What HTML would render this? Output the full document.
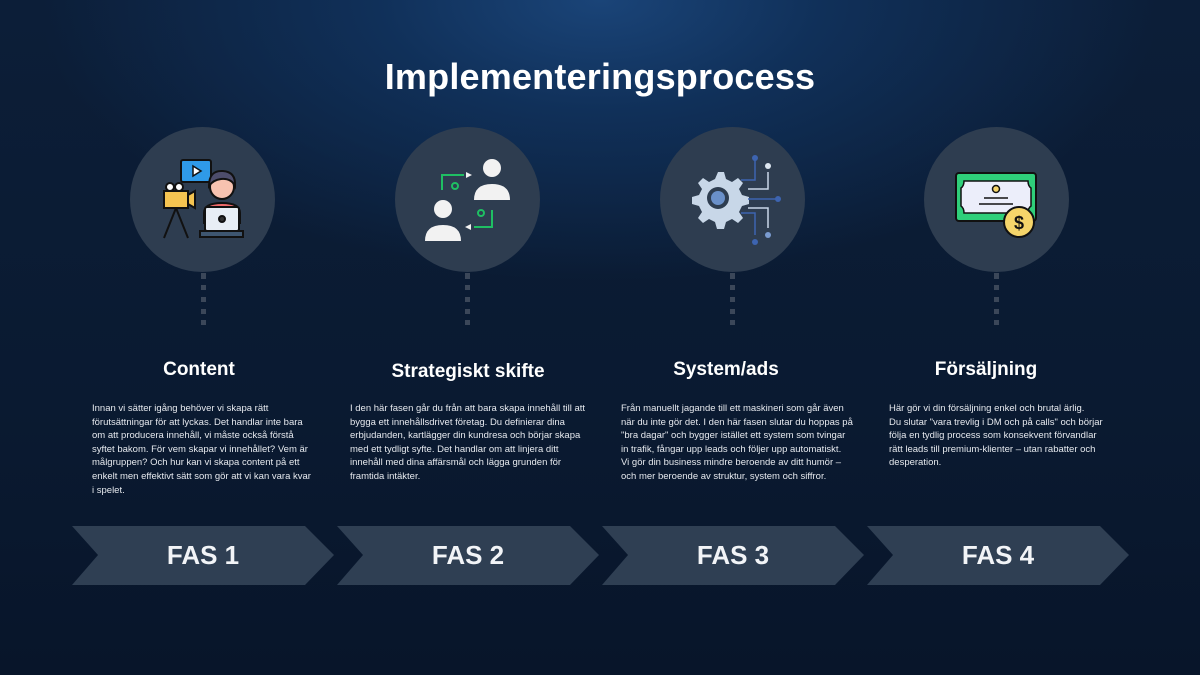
<!DOCTYPE html>
<html><head><meta charset="utf-8"><style>
*{margin:0;padding:0;box-sizing:border-box}
body{width:1200px;height:675px;overflow:hidden;font-family:"Liberation Sans",Arial,sans-serif;color:#fff;position:relative;
background:radial-gradient(ellipse 560px 280px at 600px 0px,#1a4478 0%,#103059 40%,rgba(11,28,52,0) 100%),linear-gradient(180deg,#0c1e38 0%,#0a1a31 60%,#08152a 100%);}
.title{position:absolute;left:0;width:1200px;top:56px;text-align:center;font-size:36px;font-weight:bold;letter-spacing:0.2px}
.circ{position:absolute;width:145px;height:145px;border-radius:50%;background:#2e3d50;top:127px}
.h{position:absolute;width:260px;text-align:center;font-size:19px;font-weight:bold;top:359px}
.t{position:absolute;font-size:9.5px;line-height:13.6px;color:#e6e9ee;top:402px;white-space:nowrap}
.lbl{position:absolute;top:540px;width:200px;text-align:center;font-size:26px;font-weight:bold;color:#f2f4f7}
</style></head><body>
<div class="title">Implementeringsprocess</div>

<div class="circ" style="left:130px"></div>
<div class="circ" style="left:395px"></div>
<div class="circ" style="left:660px"></div>
<div class="circ" style="left:924px"></div>

<svg width="1200" height="675" style="position:absolute;left:0;top:0">
<g fill="#3b4759">
<rect x="201" y="273" width="5" height="6"/><rect x="201" y="285" width="5" height="5"/><rect x="201" y="297" width="5" height="5"/><rect x="201" y="309" width="5" height="5"/><rect x="201" y="320" width="5" height="5"/>
<rect x="465" y="273" width="5" height="6"/><rect x="465" y="285" width="5" height="5"/><rect x="465" y="297" width="5" height="5"/><rect x="465" y="309" width="5" height="5"/><rect x="465" y="320" width="5" height="5"/>
<rect x="730" y="273" width="5" height="6"/><rect x="730" y="285" width="5" height="5"/><rect x="730" y="297" width="5" height="5"/><rect x="730" y="309" width="5" height="5"/><rect x="730" y="320" width="5" height="5"/>
<rect x="994" y="273" width="5" height="6"/><rect x="994" y="285" width="5" height="5"/><rect x="994" y="297" width="5" height="5"/><rect x="994" y="309" width="5" height="5"/><rect x="994" y="320" width="5" height="5"/>
</g>
<g fill="#2f3f53">
<polygon points="72,526 305,526 334,555 305,585 72,585 98,555"/>
<polygon points="337,526 570,526 599,555 570,585 337,585 363,555"/>
<polygon points="602,526 835,526 864,555 835,585 602,585 628,555"/>
<polygon points="867,526 1100,526 1129,555 1100,585 867,585 893,555"/>
</g>
<g stroke="#111" stroke-width="2">
<rect x="181" y="160" width="30" height="22" rx="2" fill="#2f9ae8"/>
<polygon points="193,166 201,171 193,176" fill="#fff" stroke-width="1.5"/>
<rect x="164" y="191" width="24" height="17" fill="#f5c451"/>
<polygon points="188,195 195,191 195,208 188,204" fill="#f5c451"/>
<circle cx="170" cy="187" r="4" fill="#fff"/><circle cx="179" cy="187" r="4" fill="#fff"/>
<line x1="176" y1="208" x2="164" y2="238"/><line x1="176" y1="208" x2="188" y2="238"/>
<path d="M204,213 q0,-10 18,-10 q18,0 18,10 v10 h-36z" fill="#f06a6a"/>
<circle cx="222" cy="187" r="12" fill="#f7c2b0"/>
<path d="M209,186 q0,-16 14,-15 q13,1 12,15 q-4,-8 -14,-7 q-8,1 -12,7z" fill="#4d4d6b"/>
<rect x="205" y="207" width="34" height="24" rx="2" fill="#e8eef5"/>
<circle cx="222" cy="219" r="3" fill="#333"/>
<rect x="200" y="231" width="43" height="6" fill="#3e5670"/>
</g>
<g fill="#f2f2f2">
<circle cx="492" cy="168" r="9"/><path d="M474,200 q0,-16 18,-16 q18,0 18,16z"/>
<circle cx="443" cy="209" r="9"/><path d="M425,241 q0,-16 18,-16 q18,0 18,16z"/>
<polygon points="466,172 472,175 466,178"/><polygon points="471,224 465,227 471,230"/>
</g>
<g stroke="#1fbf63" stroke-width="2" fill="none">
<path d="M442,190 v-15 h22"/><path d="M492,210 v17 h-18"/>
<circle cx="455" cy="186" r="3"/><circle cx="481" cy="213" r="3"/>
</g>
<g>
<path fill="#c8d7e8" d="M718,172 l6,0 l2,7 l6,3 l6,-4 l5,5 l-4,6 l3,6 l7,2 l0,7 l-7,2 l-3,6 l4,6 l-5,5 l-6,-4 l-6,3 l-2,7 l-7,0 l-2,-7 l-6,-3 l-6,4 l-5,-5 l4,-6 l-3,-6 l-7,-2 l0,-7 l7,-2 l3,-6 l-4,-6 l5,-5 l6,4 l6,-3z"/>
<circle cx="718" cy="198" r="11" fill="#2e3d50"/><circle cx="718" cy="198" r="7" fill="#6a90c9"/>
<g stroke="#3d64b0" stroke-width="1.5" fill="none">
<path d="M741,180 h14 v-22"/><path d="M748,199 h28"/><path d="M741,213 h14 v22"/>
</g>
<g stroke="#c8d7e8" stroke-width="1.5" fill="none"><path d="M748,189 h20 v-17"/><path d="M748,208 h20 v20"/></g>
<circle cx="755" cy="158" r="3" fill="#3d64b0"/><circle cx="768" cy="166" r="3" fill="#dde6f0"/>
<circle cx="778" cy="199" r="3" fill="#3d64b0"/><circle cx="768" cy="235" r="3" fill="#7a9bd0"/><circle cx="755" cy="242" r="3" fill="#3d64b0"/>
</g>
<g stroke="#111" stroke-width="2">
<rect x="956" y="173" width="80" height="48" rx="3" fill="#2fcf7a"/>
<path d="M964,181 h64 q0,5 3,7 v18 q-3,2 -3,7 h-64 q0,-5 -3,-7 v-18 q3,-2 3,-7z" fill="#eceefa" stroke-width="1.5"/>
<circle cx="996" cy="189" r="3.5" fill="#f5d56a" stroke-width="1.5"/>
<line x1="984" y1="198" x2="1008" y2="198" stroke-width="1.5"/><line x1="979" y1="204" x2="1013" y2="204" stroke-width="1.5"/>
<circle cx="1019" cy="222" r="15" fill="#f5d56a"/>
</g>
<text x="1019" y="229" font-family="Liberation Sans" font-weight="bold" font-size="18" text-anchor="middle" fill="#111">$</text>
</svg>

<div class="h" style="left:69px">Content</div>
<div class="h" style="left:338px;top:361px">Strategiskt skifte</div>
<div class="h" style="left:596px">System/ads</div>
<div class="h" style="left:856px">Försäljning</div>

<div class="t" style="left:92px">Innan vi sätter igång behöver vi skapa rätt<br>förutsättningar för att lyckas. Det handlar inte bara<br>om att producera innehåll, vi måste också förstå<br>syftet bakom. För vem skapar vi innehållet? Vem är<br>målgruppen? Och hur kan vi skapa content på ett<br>enkelt men effektivt sätt som gör att vi kan vara kvar<br>i spelet.</div>
<div class="t" style="left:350px">I den här fasen går du från att bara skapa innehåll till att<br>bygga ett innehållsdrivet företag. Du definierar dina<br>erbjudanden, kartlägger din kundresa och börjar skapa<br>med ett tydligt syfte. Det handlar om att linjera ditt<br>innehåll med dina affärsmål och lägga grunden för<br>framtida intäkter.</div>
<div class="t" style="left:621px">Från manuellt jagande till ett maskineri som går även<br>när du inte gör det. I den här fasen slutar du hoppas på<br>"bra dagar" och bygger istället ett system som tvingar<br>in trafik, fångar upp leads och följer upp automatiskt.<br>Vi gör din business mindre beroende av ditt humör –<br>och mer beroende av struktur, system och siffror.</div>
<div class="t" style="left:889px">Här gör vi din försäljning enkel och brutal ärlig.<br>Du slutar "vara trevlig i DM och på calls" och börjar<br>följa en tydlig process som konsekvent förvandlar<br>rätt leads till premium-klienter – utan rabatter och<br>desperation.</div>

<div class="lbl" style="left:103px">FAS 1</div>
<div class="lbl" style="left:368px">FAS 2</div>
<div class="lbl" style="left:633px">FAS 3</div>
<div class="lbl" style="left:898px">FAS 4</div>
</body></html>
